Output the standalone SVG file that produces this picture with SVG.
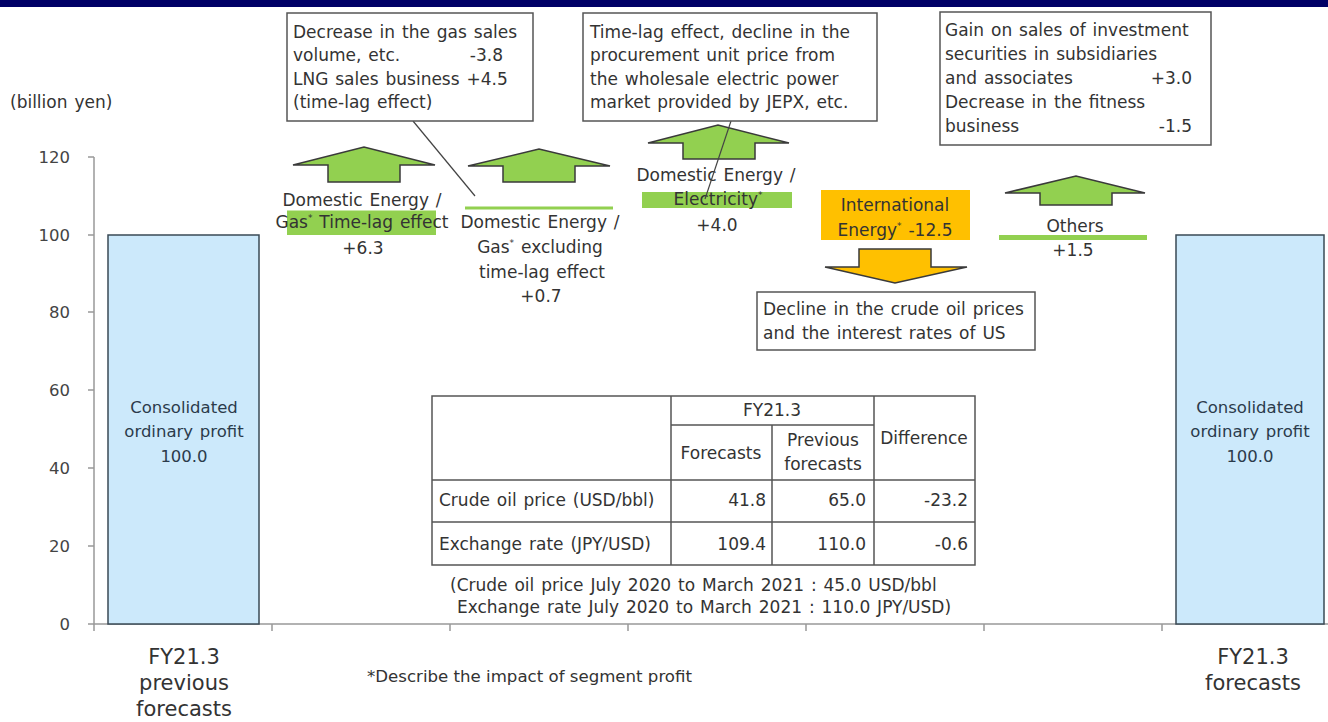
<svg xmlns="http://www.w3.org/2000/svg" width="1328" height="722" viewBox="0 0 1328 722">
<style>
.t{font-family:"DejaVu Sans",Verdana,sans-serif;font-size:17px;fill:#333;word-spacing:1.5px}
.c{text-anchor:middle}
.e{text-anchor:end}
.ax{font-size:16.5px;fill:#444}
.bt{font-size:16.5px;fill:#2b3b4b}
.cat{font-size:21px;fill:#333}
.sup{font-size:9px}
.box{fill:#fff;stroke:#555;stroke-width:1.5}
.up{fill:#92d050;stroke:#3a3a3a;stroke-width:1.5;stroke-linejoin:miter}
.down{fill:#ffc000;stroke:#3a3a3a;stroke-width:1.5}
.grn{fill:#92d050}
.org{fill:#ffc000}
.bar{fill:#cce9fb;stroke:#3a4a55;stroke-width:1.5}
.axis{stroke:#999;stroke-width:1.5;fill:none}
.grid{stroke:#555;stroke-width:1.5;fill:none}
.lead{stroke:#444;stroke-width:1.2;fill:none}
</style>
<rect x="0" y="0" width="1328" height="7" fill="#000066"/>

<g id="axes">
  <path class="axis" d="M94,157V624H1328"/>
  <path class="axis" d="M88,157H94M88,235H94M88,312H94M88,390H94M88,468H94M88,546H94M88,624H94"/>
  <path class="axis" d="M94,624V631M272,624V631M450,624V631M628,624V631M806,624V631M984,624V631M1162,624V631"/>
  <text class="t ax e" x="70" y="163">120</text>
  <text class="t ax e" x="70" y="241">100</text>
  <text class="t ax e" x="70" y="318">80</text>
  <text class="t ax e" x="70" y="396">60</text>
  <text class="t ax e" x="70" y="474">40</text>
  <text class="t ax e" x="70" y="552">20</text>
  <text class="t ax e" x="70" y="630">0</text>
  <text class="t" x="10" y="108">(billion yen)</text>
</g>

<g id="bar-previous">
  <rect class="bar" x="108" y="235" width="151" height="389"/>
  <text class="t bt c" x="184" y="413">Consolidated</text>
  <text class="t bt c" x="184" y="437">ordinary profit</text>
  <text class="t bt c" x="184" y="462">100.0</text>
  <text class="t cat c" x="184" y="664">FY21.3</text>
  <text class="t cat c" x="184" y="690">previous</text>
  <text class="t cat c" x="184" y="716">forecasts</text>
</g>

<g id="bar-forecasts">
  <rect class="bar" x="1176" y="235" width="148" height="389"/>
  <text class="t bt c" x="1250" y="413">Consolidated</text>
  <text class="t bt c" x="1250" y="437">ordinary profit</text>
  <text class="t bt c" x="1250" y="462">100.0</text>
  <text class="t cat c" x="1253" y="664">FY21.3</text>
  <text class="t cat c" x="1253" y="690">forecasts</text>
</g>

<g id="gas-timelag">
  <rect class="grn" x="287" y="210.5" width="149" height="24.5"/>
  <path class="up" d="M328,182V165H293L364,147L435,165H400V182Z"/>
  <text class="t c" x="362" y="206">Domestic Energy /</text>
  <text class="t c" x="362" y="228">Gas<tspan class="sup" dy="-7">*</tspan><tspan dy="7"> Time-lag effect</tspan></text>
  <text class="t c" x="363" y="254">+6.3</text>
</g>

<g id="gas-excl">
  <rect class="grn" x="465" y="206.5" width="148" height="3"/>
  <path class="up" d="M503,182V166H468L539,149L610,166H575V182Z"/>
  <text class="t c" x="540" y="228">Domestic Energy /</text>
  <text class="t c" x="540" y="253">Gas<tspan class="sup" dy="-7">*</tspan><tspan dy="7"> excluding</tspan></text>
  <text class="t c" x="542" y="278">time-lag effect</text>
  <text class="t c" x="541" y="302">+0.7</text>
</g>

<g id="electricity">
  <rect class="grn" x="642" y="192" width="150" height="16"/>
  <path class="up" d="M683,159V143H648L718,125L789,143H755V159Z"/>
  <text class="t c" x="716" y="181">Domestic Energy /</text>
  <text class="t c" x="718" y="205">Electricity<tspan class="sup" dy="-7">*</tspan></text>
  <text class="t c" x="717" y="231">+4.0</text>
</g>

<g id="international">
  <rect class="org" x="821" y="190" width="149" height="50"/>
  <path class="down" d="M859,249H931V267H967L895,283L825,267H859Z"/>
  <text class="t c" x="895" y="211">International</text>
  <text class="t c" x="895" y="236">Energy<tspan class="sup" dy="-7">*</tspan><tspan dy="7">  -12.5</tspan></text>
</g>

<g id="others">
  <rect class="grn" x="999" y="235" width="148" height="5"/>
  <path class="up" d="M1040,205V193H1005L1076,176L1145,193H1112V205Z"/>
  <text class="t c" x="1075" y="232">Others</text>
  <text class="t c" x="1073" y="256">+1.5</text>
</g>

<g id="connectors">
  <line class="lead" x1="413" y1="121" x2="475" y2="196"/>
  <line class="lead" x1="731" y1="121" x2="705" y2="199"/>
</g>

<g id="callout-gas">
  <rect class="box" x="287" y="13" width="246" height="108"/>
  <text class="t" x="293" y="38">Decrease in the gas sales</text>
  <text class="t" x="293" y="61">volume, etc.</text>
  <text class="t e" x="503" y="61">-3.8</text>
  <text class="t" x="293" y="85">LNG sales business +4.5</text>
  <text class="t" x="293" y="108">(time-lag effect)</text>
</g>

<g id="callout-electricity">
  <rect class="box" x="583" y="13" width="294" height="108"/>
  <text class="t" x="590" y="38">Time-lag effect, decline in the</text>
  <text class="t" x="590" y="61">procurement unit price from</text>
  <text class="t" x="590" y="85">the wholesale electric power</text>
  <text class="t" x="590" y="108">market provided by JEPX, etc.</text>
</g>

<g id="callout-others">
  <rect class="box" x="940" y="12" width="271" height="133"/>
  <text class="t" x="945" y="36">Gain on sales of investment</text>
  <text class="t" x="945" y="60">securities in subsidiaries</text>
  <text class="t" x="945" y="84">and associates</text>
  <text class="t e" x="1192" y="84">+3.0</text>
  <text class="t" x="945" y="108">Decrease in the fitness</text>
  <text class="t" x="945" y="132">business</text>
  <text class="t e" x="1192" y="132">-1.5</text>
</g>

<g id="callout-international">
  <rect class="box" x="757" y="292" width="278" height="58"/>
  <text class="t" x="763" y="315">Decline in the crude oil prices</text>
  <text class="t" x="763" y="339">and the interest rates of US</text>
</g>

<g id="table">
  <rect class="grid" x="432" y="396" width="543" height="169" fill="#fff"/>
  <path class="grid" d="M671,396V565M772,425V565M874,396V565M671,425H874M432,480H975M432,522H975"/>
  <text class="t c" x="772" y="416">FY21.3</text>
  <text class="t c" x="721" y="459">Forecasts</text>
  <text class="t c" x="823" y="446">Previous</text>
  <text class="t c" x="823" y="470">forecasts</text>
  <text class="t c" x="924" y="444">Difference</text>
  <text class="t" x="439" y="506">Crude oil price (USD/bbl)</text>
  <text class="t e" x="766" y="506">41.8</text>
  <text class="t e" x="866" y="506">65.0</text>
  <text class="t e" x="968" y="506">-23.2</text>
  <text class="t" x="439" y="550">Exchange  rate (JPY/USD)</text>
  <text class="t e" x="766" y="550">109.4</text>
  <text class="t e" x="866" y="550">110.0</text>
  <text class="t e" x="968" y="550">-0.6</text>
  <text class="t" x="450" y="591">(Crude oil price July 2020 to March 2021 : 45.0 USD/bbl</text>
  <text class="t" x="457" y="613">Exchange rate July 2020 to March 2021 : 110.0 JPY/USD)</text>
</g>

<text class="t" x="367" y="682" style="font-size:15px;word-spacing:0" textLength="325" lengthAdjust="spacingAndGlyphs">*Describe the impact of segment profit</text>
</svg>
